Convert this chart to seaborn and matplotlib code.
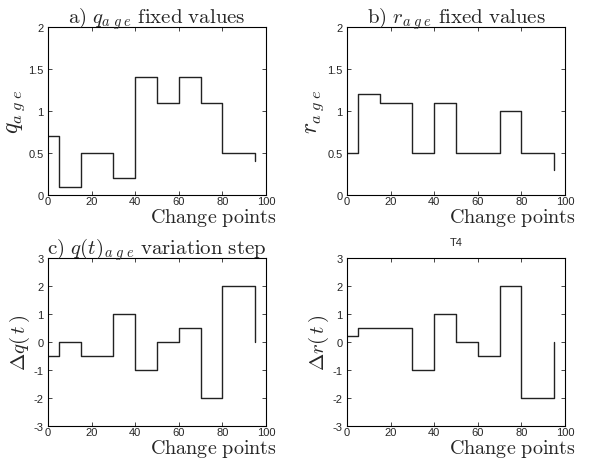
import numpy as np
import pandas as pd
import matplotlib
matplotlib.use("Agg")
import matplotlib.pyplot as plt
import seaborn as sns

# change points (x) and step values for each panel
change_pts = [0, 5, 15, 30, 40, 50, 60, 70, 80, 95]
q_age = [0.7, 0.1, 0.5, 0.2, 1.4, 1.1, 1.4, 1.1, 0.5, 0.4]
r_age = [0.5, 1.2, 1.1, 0.5, 1.1, 0.5, 0.5, 1.0, 0.5, 0.3]
dq = [-0.5, 0, -0.5, 1, -1, 0, 0.5, -2, 2, 0]
dr = [0.2, 0.5, 0.5, -1, 1, 0, -0.5, 2, -2, 0]

sns.set_style("ticks")
plt.rcParams['font.family'] = ['Liberation Sans', 'DejaVu Sans']
plt.rcParams['mathtext.fontset'] = 'cm'
plt.rcParams['axes.unicode_minus'] = False

fig = plt.figure(figsize=(5.92, 4.60), dpi=100)

W, H = 592, 460
def box(l, t, r, b):
    return [l / W, (H - b) / H, (r - l) / W, (b - t) / H]

panels = [
    (box(48, 28, 266, 196), q_age, (0, 2), [0, 0.5, 1, 1.5, 2],
     r'$\mathrm{a)\ }q_{a\;g\;e}\mathrm{\ fixed\ values}$', r'$q_{a\;g\;e}$', 17),
    (box(347, 28, 565, 196), r_age, (0, 2), [0, 0.5, 1, 1.5, 2],
     r'$\mathrm{b)\ }r_{a\;g\;e}\mathrm{\ fixed\ values}$', r'$r_{a\;g\;e}$', 17),
    (box(48, 259, 266, 427), dq, (-3, 3), [-3, -2, -1, 0, 1, 2, 3],
     r'$\mathrm{c)\ }q(t)_{a\;g\;e}\mathrm{\ variation\ step}$', r'$\Delta q(\,t\,)$', 15),
    (box(347, 259, 565, 427), dr, (-3, 3), [-3, -2, -1, 0, 1, 2, 3],
     'T4', r'$\Delta r(\,t\,)$', 15),
]

for pos, vals, ylim, yticks, title, ylab, ylsize in panels:
    ax = fig.add_axes(pos)
    df = pd.DataFrame({'x': change_pts, 'y': vals})
    sns.lineplot(data=df, x='x', y='y', ax=ax, estimator=None, sort=False,
                 drawstyle='steps-post', color='#222222', linewidth=1.0)
    ax.set_xlim(0, 100)
    ax.set_ylim(*ylim)
    ax.set_xticks([0, 20, 40, 60, 80, 100])
    ax.set_yticks(yticks)
    ax.set_yticklabels([f'{t:g}' for t in yticks])
    ax.tick_params(direction='in', top=True, right=True, length=3,
                   width=0.6, labelsize=8, pad=3)
    ax.tick_params(axis='x', pad=1)
    for s in ax.spines.values():
        s.set_linewidth(0.8)
        s.set_color('black')
    if title == 'T4':
        ax.set_title(title, fontsize=8, pad=9)
    else:
        ax.set_title(title, fontsize=15, pad=3)
    ax.set_xlabel(r'$\mathrm{Change\ points}$', fontsize=14.5)
    ax.xaxis.label.set_ha('right')
    ax.xaxis.label.set_va('center')
    ax.xaxis.set_label_coords(1.05, -0.128)
    ax.set_ylabel(ylab, fontsize=ylsize, labelpad=1)

fig.savefig('out.png', dpi=100)
